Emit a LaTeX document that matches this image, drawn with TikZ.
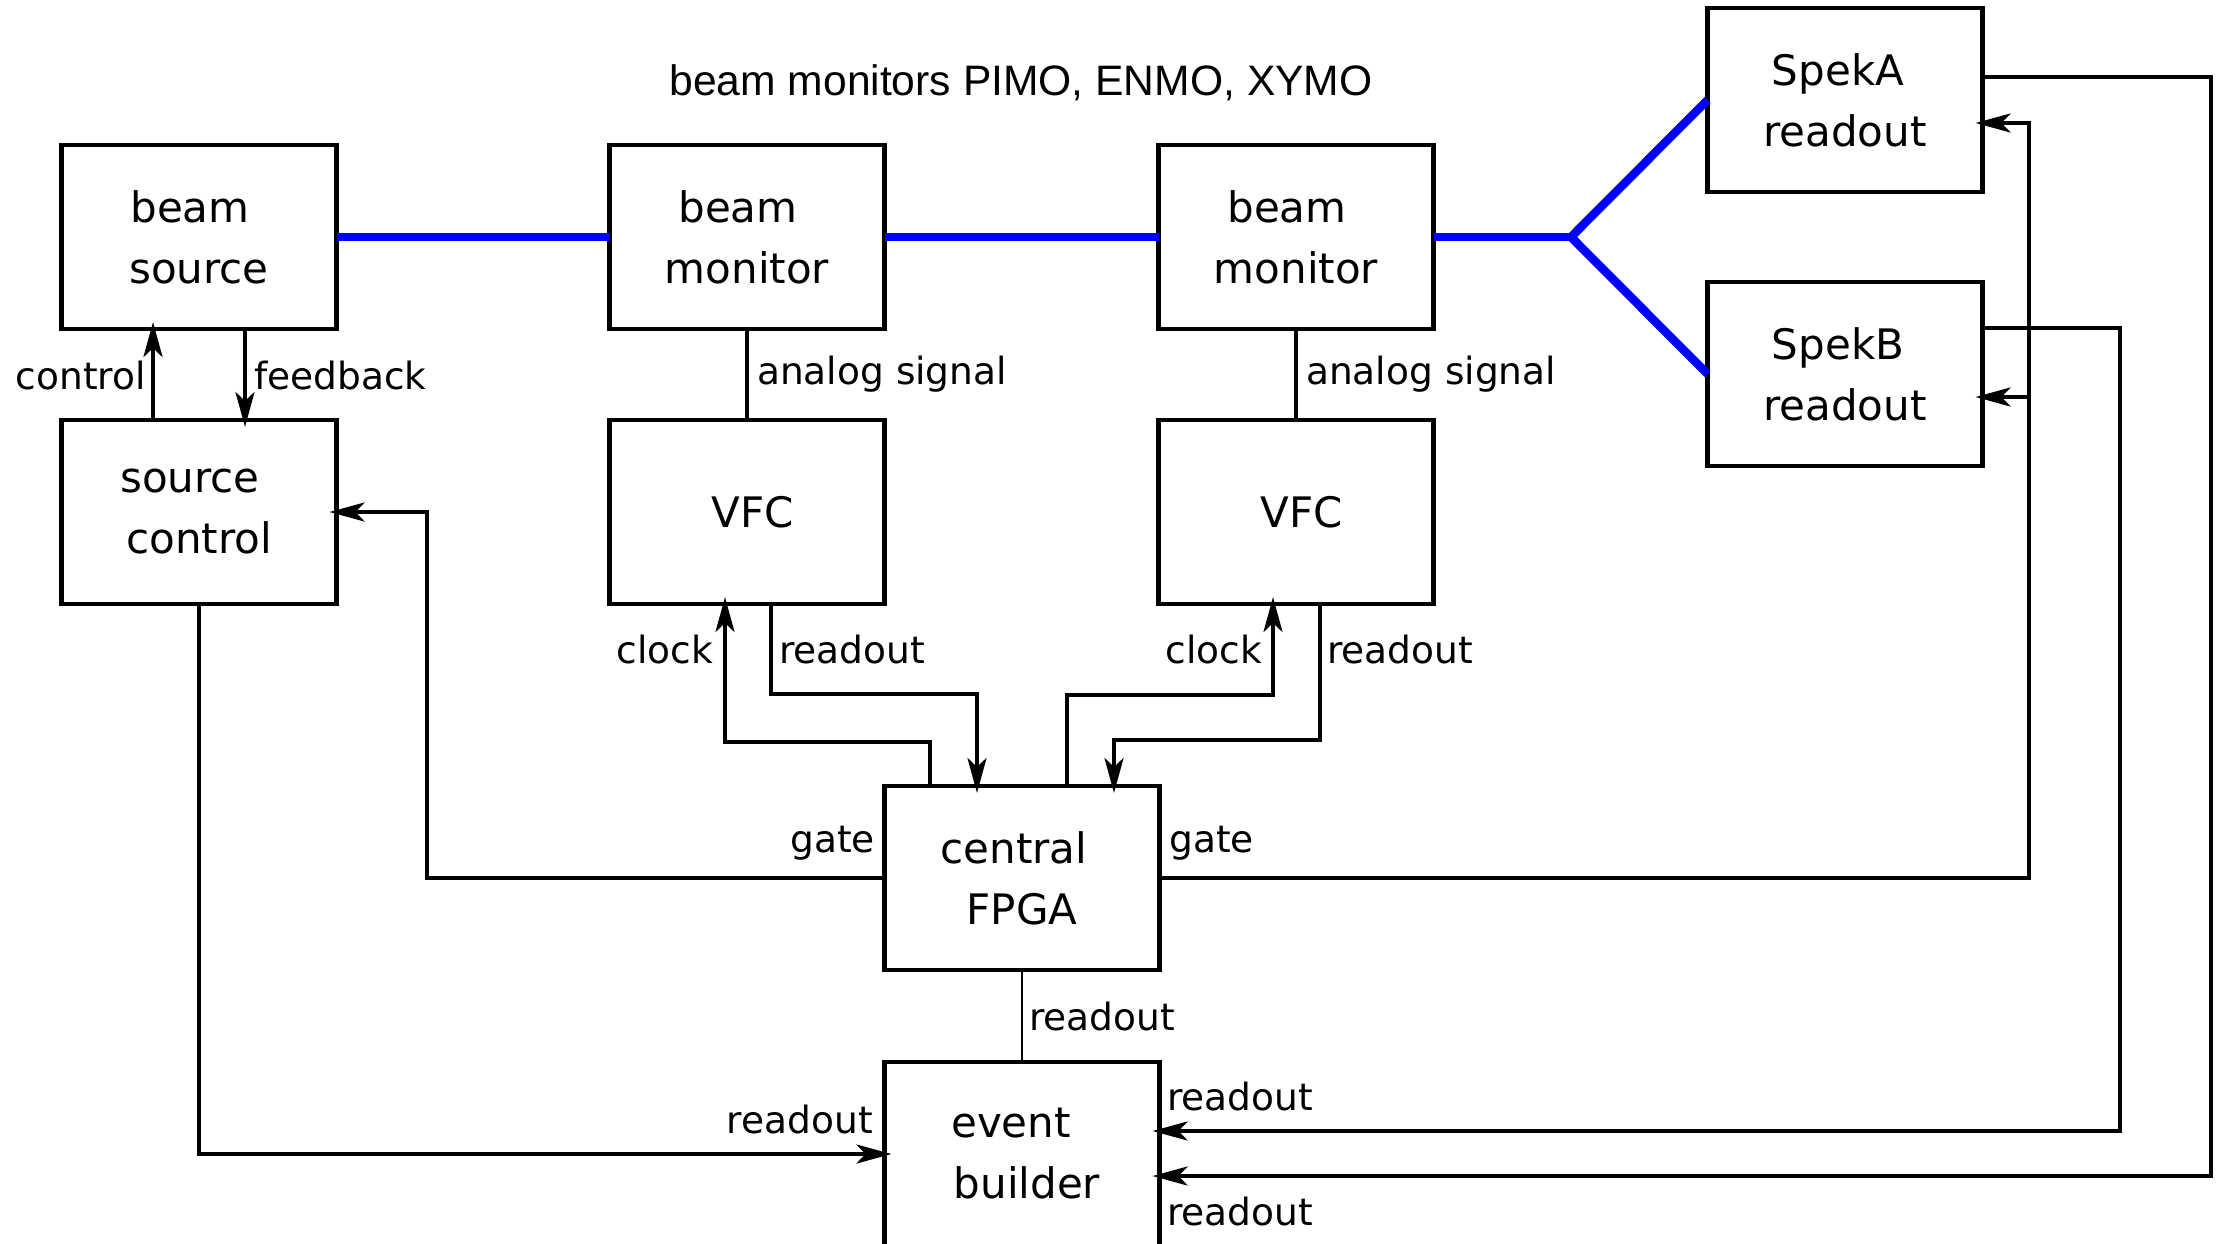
\documentclass[tikz,border=0pt]{standalone}
\usepackage{fontspec}
\setmainfont{DejaVu Sans}
\newfontfamily\titlefont{Liberation Sans}
\usetikzlibrary{arrows.meta,calc}

\begin{document}
\begin{tikzpicture}[x=1pt,y=-1pt,
  block/.style={draw,line width=4.5pt,minimum width=275pt,minimum height=184pt,
    outer sep=0pt,inner sep=0pt,align=center,font=\fontsize{42}{61}\selectfont},
  lbl/.style={inner sep=0pt,font=\fontsize{37.5}{44}\selectfont},
  wire/.style={line width=4pt},
  thinwire/.style={line width=2pt},
  arr/.style={wire,-{Stealth[length=35pt,width=19pt,inset=9pt]},shorten >=-7pt},
  beamline/.style={line width=8.5pt,blue,line join=miter}
]
\useasboundingbox (0,0) rectangle (2223,1243);

% title
\node[anchor=base,inner sep=0pt,font=\titlefont\fontsize{42.6}{50}\selectfont] (title) at (1021,95) {beam monitors PIMO, ENMO, XYMO};

% blocks
\node[block] (bsrc) at (199,237) {beam\hspace*{18pt}\\source};
\node[block] (sctl) at (199,512) {source\hspace*{18pt}\\control};
\node[block] (mon1) at (747,237) {beam\hspace*{18pt}\\monitor};
\node[block] (vfc1) at (747,512) {\hspace*{12pt}VFC};
\node[block] (mon2) at (1296,237) {beam\hspace*{18pt}\\monitor};
\node[block] (vfc2) at (1296,512) {\hspace*{12pt}VFC};
\node[block] (spa) at (1845,100) {SpekA\hspace*{14pt}\\readout};
\node[block] (spb) at (1845,374) {SpekB\hspace*{14pt}\\readout};
\node[block] (fpga) at (1022,878) {central\hspace*{16pt}\\FPGA};
\node[block] (evb) at (1022,1154) {event\hspace*{22pt}\\\hspace*{10pt}builder};

% beam line
\coordinate (split) at (1571,237);
\draw[beamline] (bsrc.east) -- (mon1.west);
\draw[beamline] (mon1.east) -- (mon2.west);
\draw[beamline] (mon2.east) -- (split);
\draw[beamline] (spa.west) -- (split) -- (spb.west);

% source control loop
\draw[arr] ($(sctl.north)+(-46,0)$) -- ($(bsrc.south)+(-46,0)$);
\draw[arr] ($(bsrc.south)+(46,0)$) -- ($(sctl.north)+(46,0)$);
\node[lbl,anchor=base east] (lctl) at (146,389) {control};
\node[lbl,anchor=base west] (lfb) at (254,389) {feedback};

% analog signals
\draw[wire] (mon1.south) -- (vfc1.north);
\draw[wire] (mon2.south) -- (vfc2.north);
\node[lbl,anchor=base west] (lan1) at (757,384) {analog signal};
\node[lbl,anchor=base west] (lan2) at (1306,384) {analog signal};

% clock and readout between VFCs and FPGA
\draw[arr] ($(fpga.north)+(-92,0)$) |- ($(vfc1.south)+(-22,138)$) -- ($(vfc1.south)+(-22,0)$);
\draw[arr] ($(vfc1.south)+(24,0)$) |- ($(fpga.north)+(-45,-92)$) -- ($(fpga.north)+(-45,0)$);
\draw[arr] ($(fpga.north)+(45,0)$) |- ($(vfc2.south)+(-23,91)$) -- ($(vfc2.south)+(-23,0)$);
\draw[arr] ($(vfc2.south)+(24,0)$) |- ($(fpga.north)+(92,-46)$) -- ($(fpga.north)+(92,0)$);
\node[lbl,anchor=base east] (lclk1) at (713,663) {clock};
\node[lbl,anchor=base west] (lro1) at (779,663) {readout};
\node[lbl,anchor=base east] (lclk2) at (1262,663) {clock};
\node[lbl,anchor=base west] (lro2) at (1327,663) {readout};

% gates
\draw[arr] (fpga.west) -| ($(sctl.east)+(90,0)$) -- (sctl.east);
\draw[arr] (fpga.east) -| ($(spa.east)+(46,23)$) -- ($(spa.east)+(0,23)$);
\draw[arr] ($(spb.east)+(46,23)$) -- ($(spb.east)+(0,23)$);
\node[lbl,anchor=base east] (lgl) at (875,852) {gate};
\node[lbl,anchor=base west] (lgr) at (1169,852) {gate};

% readouts into the event builder
\draw[thinwire] (fpga.south) -- (evb.north);
\node[lbl,anchor=base west] (lrf) at (1029,1030) {readout};
\draw[arr] (sctl.south) |- (evb.west);
\node[lbl,anchor=base east] (lrs) at (873,1133) {readout};
\draw[arr] ($(spb.east)+(0,-46)$) -| ($(evb.east)+(960,-23)$) -- ($(evb.east)+(0,-23)$);
\draw[arr] ($(spa.east)+(0,-23)$) -| ($(evb.east)+(1051,22)$) -- ($(evb.east)+(0,22)$);
\node[lbl,anchor=base west] (lrb) at (1167,1110) {readout};
\node[lbl,anchor=base west] (lra) at (1167,1225) {readout};
\end{tikzpicture}
\end{document}
